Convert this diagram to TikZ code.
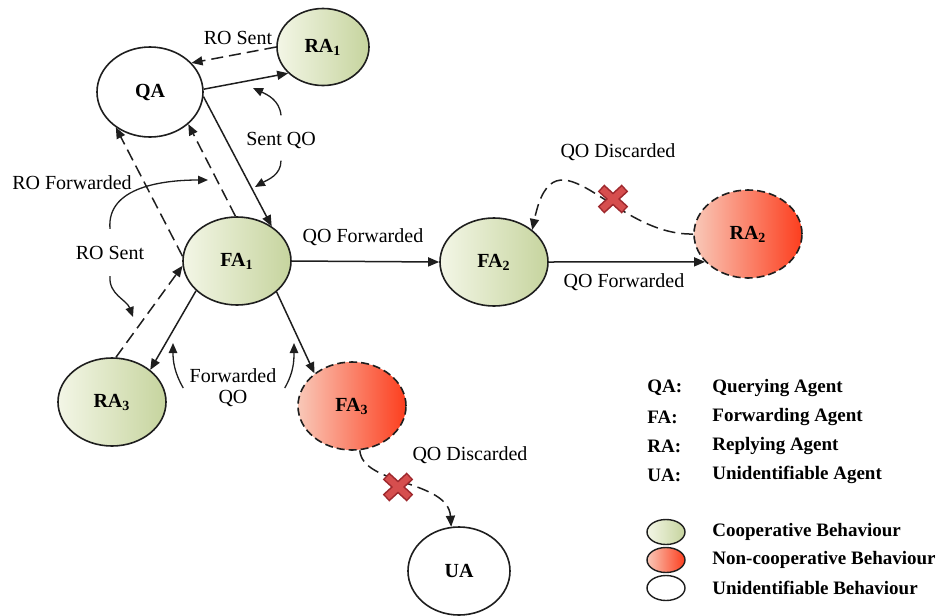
\documentclass[tikz,border=0pt]{standalone}
\usepackage{fontspec}
\setmainfont{Liberation Serif}
\usetikzlibrary{arrows.meta,shapes.geometric}
\definecolor{ink}{RGB}{30,30,30}
\definecolor{grnL}{RGB}{243,246,230}
\definecolor{grnR}{RGB}{198,212,158}
\definecolor{redL}{RGB}{249,200,184}
\definecolor{redR}{RGB}{252,62,30}
\definecolor{xred}{RGB}{214,78,78}
\definecolor{xdark}{RGB}{158,40,45}
\tikzset{
  agent/.style={ellipse,draw=ink,line width=0.8pt,font=\bfseries,inner sep=0pt,
    minimum width=54pt,minimum height=44pt},
  coop/.style={agent,left color=grnL,right color=grnR},
  noncoop/.style={agent,left color=redL,right color=redR,dash pattern=on 4pt off 2pt},
  unid/.style={agent,fill=white},
  msg/.style={-{Triangle[length=5.5pt,width=4.5pt]},line width=0.75pt,ink},
  reply/.style={msg,dash pattern=on 6pt off 3pt},
  note/.style={-{Triangle[length=5pt,width=4.2pt]},line width=0.65pt,ink},
  lbl/.style={font=\fontsize{10}{10.5}\selectfont,inner sep=1pt,align=center},
  legtxt/.style={anchor=west,font=\fontsize{9.5}{11}\selectfont\bfseries,inner sep=0pt},
  legmark/.style={ellipse,draw=ink,line width=0.7pt,minimum width=19pt,
    minimum height=12.5pt,inner sep=0pt},
  xmark/.pic={
    \draw[xdark,line width=4.8pt] (-12,-11) -- (12,11) (-12,11) -- (12,-11);
    \draw[xred,line width=3.2pt] (-10.9,-10) -- (10.9,10) (-10.9,10) -- (10.9,-10);},
}

\begin{document}
\begin{tikzpicture}[x=0.5pt,y=-0.5pt]
\useasboundingbox (0,0) rectangle (943,616);
% agents
\node[unid,minimum width=53pt,minimum height=45pt] (QA) at (150,92) {QA};
\node[coop,minimum width=46pt,minimum height=38.5pt] (RA1) at (323,47) {RA\textsubscript{1}};
\node[coop] (FA1) at (237,261) {FA\textsubscript{1}};
\node[coop] (FA2) at (494,262) {FA\textsubscript{2}};
\node[noncoop] (RA2) at (748,234) {RA\textsubscript{2}};
\node[coop] (RA3) at (112,402) {RA\textsubscript{3}};
\node[noncoop] (FA3) at (352,406) {FA\textsubscript{3}};
\node[unid,minimum width=51pt] (UA) at (459,571) {UA};

% queries and replies
\draw[reply] (RA1.180) -- (QA.35);
\draw[msg] (QA.3) -- (RA1.217);
\draw[msg] (QA.-5) -- (FA1.45);
\draw[reply] (FA1.92) -- (QA.-40);
\draw[reply] (FA1.175) -- (QA.-134);
\draw[reply] (RA3.85) -- (FA1.185);
\draw[msg] (FA1.216) -- (RA3.40);
\draw[msg] (FA1.-38) -- (FA3.139);
\draw[msg] (FA1.0) -- (FA2.180);
\draw[msg] (FA2.0) -- (RA2.213);
\draw[reply] (RA2.180) .. controls (612,236) and (555,122) .. (FA2.40);
\draw[reply] (FA3.-80) .. controls (362,485) and (448,480) .. (UA.100);
\coordinate (x2) at (613,199);
\coordinate (x3) at (398,487);
\pic at (x2) {xmark};
\pic at (x3) {xmark};

% labels
\node[lbl] (lRO1) at (238,38) {RO Sent};
\node[lbl] (lSQ) at (281,140) {Sent QO};
\node[lbl] (lROF) at (72,183) {RO Forwarded};
\node[lbl] (lRO3) at (110,253) {RO Sent};
\node[lbl] (lFQ) at (233,388) {Forwarded\\QO};
\node[lbl] (lQF1) at (363,237) {QO Forwarded};
\node[lbl] (lQF2) at (624,282) {QO Forwarded};
\node[lbl] (lQD1) at (618,152) {QO Discarded};
\node[lbl] (lQD2) at (470,455) {QO Discarded};

% pointers from labels to links
\coordinate (nSQa) at (253,88);
\coordinate (nSQb) at (255,187);
\coordinate (nROF) at (208,180);
\coordinate (nRO3) at (133,317);
\coordinate (nFQa) at (173,343);
\coordinate (nFQb) at (294,343);
\draw[note] ([yshift=7pt]lSQ.north) to[out=95,in=-25] (nSQa);
\draw[note] ([yshift=-5pt]lSQ.south) to[out=-90,in=30] (nSQb);
\draw[note] ([yshift=7.5pt]lRO3.north) to[out=95,in=180] (nROF);
\draw[note] ([yshift=-7pt]lRO3.south) to[out=-95,in=110] (nRO3);
\draw[note] ([xshift=-2pt]lFQ.west) to[out=120,in=-90] (nFQa);
\draw[note] ([xshift=3pt]lFQ.east) to[out=60,in=-90] (nFQb);

% legend
\foreach \y/\ab/\txt in {388/QA/Querying Agent,417/FA/Forwarding Agent,
    446/RA/Replying Agent,475/UA/Unidentifiable Agent}{
  \node[legtxt] (k\ab) at (647,\y) {\ab:};
  \node[legtxt] (d\ab) at (712,\y) {\txt};}
\foreach \y/\sty/\txt [count=\i] in {532/coop/Cooperative Behaviour,
    560/noncoop/Non-cooperative Behaviour,588/unid/Unidentifiable Behaviour}{
  \node[\sty,legmark,solid] (m\i) at (666,\y) {};
  \node[legtxt] (b\i) at (712,\y) {\txt};}
\end{tikzpicture}
\end{document}
